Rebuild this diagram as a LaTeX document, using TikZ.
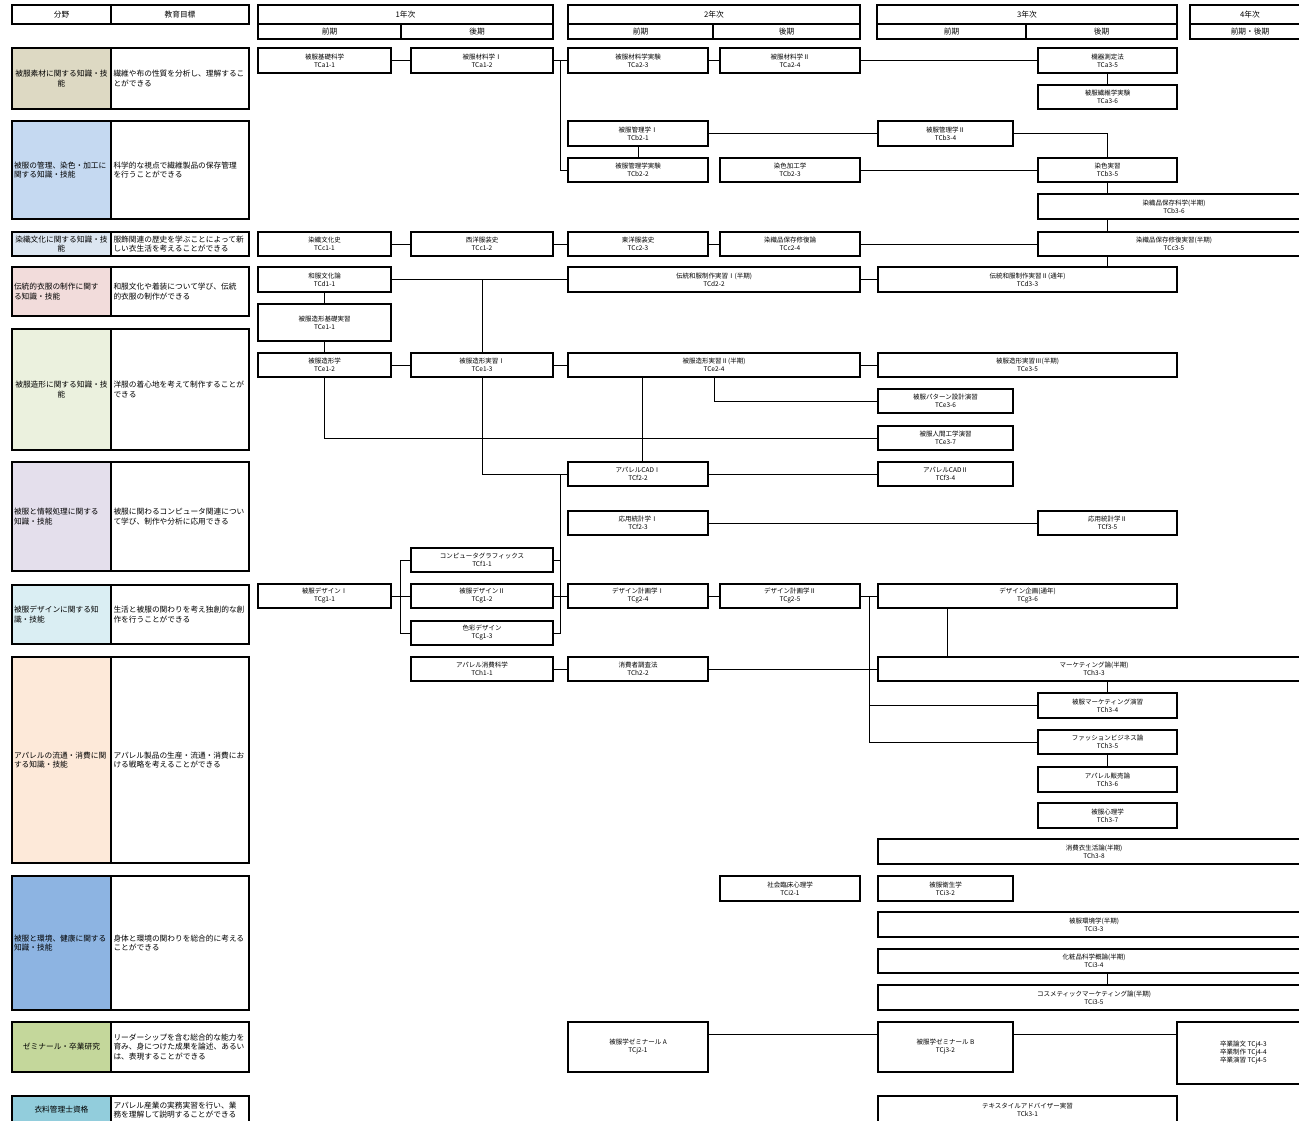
\documentclass[tikz,border=0pt]{standalone}
\usepackage{fontspec}
\newfontfamily\jpf{Noto Sans CJK JP}
\definecolor{cmat}{HTML}{DDD9C3}
\definecolor{cman}{HTML}{C5D9F1}
\definecolor{ccul}{HTML}{DCE6F1}
\definecolor{ctra}{HTML}{F2DCDB}
\definecolor{cfor}{HTML}{EBF1DE}
\definecolor{cinf}{HTML}{E4DFEC}
\definecolor{cdes}{HTML}{DAEEF3}
\definecolor{capp}{HTML}{FDE9D9}
\definecolor{cenv}{HTML}{8DB4E2}
\definecolor{csem}{HTML}{C4D79B}
\definecolor{cqua}{HTML}{92CDDC}
\tikzset{
    course/.style={draw, line width=1.1pt, align=center, inner sep=0pt, minimum height=25, font=\jpf\fontsize{6.5}{8}\selectfont},
    field/.style={draw, line width=1.2pt, inner xsep=2pt, inner ysep=0pt, text width=95, align=left, font=\jpf\fontsize{7.7}{9.6}\selectfont},
    goal/.style={draw, line width=1.2pt, inner xsep=2.5pt, inner ysep=0pt, text width=133, align=left, fill=white, font=\jpf\fontsize{7.7}{9.6}\selectfont},
    head/.style={draw, line width=1.2pt, inner sep=0pt, font=\jpf\fontsize{7.7}{9}\selectfont},
    link/.style={line width=0.9pt},
}
\begin{document}
\begin{tikzpicture}[x=1pt, y=-1pt]
        \useasboundingbox (0, 0) rectangle (1299, 1121);
        \fill[white] (0, 0) rectangle (1299, 1121);
        \clip (0, 0) rectangle (1299, 1121);

        \node[head, minimum width=99, minimum height=19] (fieldhead) at(61.5, 14.5){分野};
        \node[head, minimum width=138, minimum height=19] (goalhead) at(180, 14.5){教育目標};
        \node[head, minimum width=295, minimum height=19] (year1) at(405.5, 14.5){1年次};
            \node[head, minimum width=143, minimum height=15] (year1a) at(329.5, 31.5){前期};
            \node[head, minimum width=152, minimum height=15] (year1b) at(477, 31.5){後期};
        \node[head, minimum width=292, minimum height=19] (year2) at(714, 14.5){2年次};
            \node[head, minimum width=145, minimum height=15] (year2a) at(640.5, 31.5){前期};
            \node[head, minimum width=147, minimum height=15] (year2b) at(786.5, 31.5){後期};
        \node[head, minimum width=300, minimum height=19] (year3) at(1027, 14.5){3年次};
            \node[head, minimum width=149, minimum height=15] (year3a) at(951.5, 31.5){前期};
            \node[head, minimum width=151, minimum height=15] (year3b) at(1101.5, 31.5){後期};
        \node[head, minimum width=120, minimum height=19] (year4) at(1250, 14.5){4年次};
            \node[head, minimum width=120, minimum height=15] (year4a) at(1250, 31.5){前期・後期};

        \node[field, fill=cmat, minimum height=61, align=center] (fmat) at(61.5, 78.5){被服素材に関する知識・技\\能};
        \node[goal, minimum height=61] (gmat) at(180, 78.5){繊維や布の性質を分析し、理解するこ\\とができる};
        \node[field, fill=cman, minimum height=98] (fman) at(61.5, 170){被服の管理、染色・加工に\\関する知識・技能};
        \node[goal, minimum height=98] (gman) at(180, 170){科学的な視点で繊維製品の保存管理\\を行うことができる};
        \node[field, fill=ccul, minimum height=24, align=center] (fcul) at(61.5, 244){染織文化に関する知識・技\\能};
        \node[goal, minimum height=24] (gcul) at(180, 244){服飾関連の歴史を学ぶことによって新\\しい衣生活を考えることができる};
        \node[field, fill=ctra, minimum height=49] (ftra) at(61.5, 291.5){伝統的衣服の制作に関す\\る知識・技能};
        \node[goal, minimum height=49] (gtra) at(180, 291.5){和服文化や着装について学び、伝統\\的衣服の制作ができる};
        \node[field, fill=cfor, minimum height=121, align=center] (ffor) at(61.5, 389.5){被服造形に関する知識・技\\能};
        \node[goal, minimum height=121] (gfor) at(180, 389.5){洋服の着心地を考えて制作することが\\できる};
        \node[field, fill=cinf, minimum height=109] (finf) at(61.5, 516.5){被服と情報処理に関する\\知識・技能};
        \node[goal, minimum height=109] (ginf) at(180, 516.5){被服に関わるコンピュータ関連につい\\て学び、制作や分析に応用できる};
        \node[field, fill=cdes, minimum height=59] (fdes) at(61.5, 614.5){被服デザインに関する知\\識・技能};
        \node[goal, minimum height=59] (gdes) at(180, 614.5){生活と被服の関わりを考え独創的な創\\作を行うことができる};
        \node[field, fill=capp, minimum height=206] (fapp) at(61.5, 760){アパレルの流通・消費に関\\する知識・技能};
        \node[goal, minimum height=206] (gapp) at(180, 760){アパレル製品の生産・流通・消費にお\\ける戦略を考えることができる};
        \node[field, fill=cenv, minimum height=134] (fenv) at(61.5, 943){被服と環境、健康に関する\\知識・技能};
        \node[goal, minimum height=134] (genv) at(180, 943){身体と環境の関わりを総合的に考える\\ことができる};
        \node[field, fill=csem, minimum height=50, align=center] (fsem) at(61.5, 1047){ゼミナール・卒業研究};
        \node[goal, minimum height=50] (gsem) at(180, 1047){リーダーシップを含む総合的な能力を\\育み、身につけた成果を論述、あるい\\は、表現することができる};
        \node[field, fill=cqua, minimum height=28, align=center] (fqua) at(61.5, 1110){衣料管理士資格};
        \node[goal, minimum height=28] (gqua) at(180, 1110){アパレル産業の実務実習を行い、業\\務を理解して説明することができる};

        \node[course, minimum width=133] (TCa11) at(324.5, 60.5){被服基礎科学\\TCa1-1};
        \node[course, minimum width=142] (TCa12) at(482, 60.5){被服材料学Ⅰ\\TCa1-2};
        \node[course, minimum width=140] (TCa23) at(638, 60.5){被服材料学実験\\TCa2-3};
        \node[course, minimum width=140] (TCa24) at(790, 60.5){被服材料学Ⅱ\\TCa2-4};
        \node[course, minimum width=139] (TCa35) at(1107.5, 60.5){機器測定法\\TCa3-5};
        \node[course, minimum width=139, minimum height=24] (TCa36) at(1107.5, 97){被服繊維学実験\\TCa3-6};

        \node[course, minimum width=140] (TCb21) at(638, 133.5){被服管理学Ⅰ\\TCb2-1};
        \node[course, minimum width=135] (TCb34) at(945.5, 133.5){被服管理学Ⅱ\\TCb3-4};
        \node[course, minimum width=140, minimum height=24] (TCb22) at(638, 170){被服管理学実験\\TCb2-2};
        \node[course, minimum width=140, minimum height=24] (TCb23) at(790, 170){染色加工学\\TCb2-3};
        \node[course, minimum width=139, minimum height=24] (TCb35) at(1107.5, 170){染色実習\\TCb3-5};
        \node[course, minimum width=272] (TCb36) at(1174, 206.5){染織品保存科学(半期)\\TCb3-6};

        \node[course, minimum width=133, minimum height=24] (TCc11) at(324.5, 244){染織文化史\\TCc1-1};
        \node[course, minimum width=142, minimum height=24] (TCc12) at(482, 244){西洋服装史\\TCc1-2};
        \node[course, minimum width=140, minimum height=24] (TCc23) at(638, 244){東洋服装史\\TCc2-3};
        \node[course, minimum width=140, minimum height=24] (TCc24) at(790, 244){染織品保存修復論\\TCc2-4};
        \node[course, minimum width=272, minimum height=24] (TCc35) at(1174, 244){染織品保存修復実習(半期)\\TCc3-5};

        \node[course, minimum width=133] (TCd11) at(324.5, 279.5){和服文化論\\TCd1-1};
        \node[course, minimum width=292] (TCd22) at(714, 279.5){伝統和服制作実習Ⅰ(半期)\\TCd2-2};
        \node[course, minimum width=299] (TCd33) at(1027.5, 279.5){伝統和服制作実習Ⅱ(通年)\\TCd3-3};

        \node[course, minimum width=133, minimum height=37] (TCe11) at(324.5, 322.5){被服造形基礎実習\\TCe1-1};
        \node[course, minimum width=133, minimum height=24] (TCe12) at(324.5, 365){被服造形学\\TCe1-2};
        \node[course, minimum width=142, minimum height=24] (TCe13) at(482, 365){被服造形実習Ⅰ\\TCe1-3};
        \node[course, minimum width=292, minimum height=24] (TCe24) at(714, 365){被服造形実習Ⅱ(半期)\\TCe2-4};
        \node[course, minimum width=299, minimum height=24] (TCe35) at(1027.5, 365){被服造形実習Ⅲ(半期)\\TCe3-5};
        \node[course, minimum width=135, minimum height=24] (TCe36) at(945.5, 401){被服パターン設計演習\\TCe3-6};
        \node[course, minimum width=135, minimum height=24] (TCe37) at(945.5, 438){被服人間工学演習\\TCe3-7};

        \node[course, minimum width=140, minimum height=24] (TCf22) at(638, 474){アパレルCADⅠ\\TCf2-2};
        \node[course, minimum width=135, minimum height=24] (TCf34) at(945.5, 474){アパレルCADⅡ\\TCf3-4};
        \node[course, minimum width=140, minimum height=24] (TCf23) at(638, 523){応用統計学Ⅰ\\TCf2-3};
        \node[course, minimum width=139, minimum height=24] (TCf35) at(1107.5, 523){応用統計学Ⅱ\\TCf3-5};
        \node[course, minimum width=142, minimum height=24] (TCf11) at(482, 560){コンピュータグラフィックス\\TCf1-1};

        \node[course, minimum width=133, minimum height=24] (TCg11) at(324.5, 596){被服デザインⅠ\\TCg1-1};
        \node[course, minimum width=142, minimum height=24] (TCg12) at(482, 596){被服デザインⅡ\\TCg1-2};
        \node[course, minimum width=142, minimum height=24] (TCg13) at(482, 633){色彩デザイン\\TCg1-3};
        \node[course, minimum width=140, minimum height=24] (TCg24) at(638, 596){デザイン計画学Ⅰ\\TCg2-4};
        \node[course, minimum width=140, minimum height=24] (TCg25) at(790, 596){デザイン計画学Ⅱ\\TCg2-5};
        \node[course, minimum width=299, minimum height=24] (TCg36) at(1027.5, 596){デザイン企画(通年)\\TCg3-6};

        \node[course, minimum width=142, minimum height=24] (TCh11) at(482, 669){アパレル消費科学\\TCh1-1};
        \node[course, minimum width=140, minimum height=24] (TCh22) at(638, 669){消費者調査法\\TCh2-2};
        \node[course, minimum width=432, minimum height=24] (TCh33) at(1094, 669){マーケティング論(半期)\\TCh3-3};
        \node[course, minimum width=139] (TCh34) at(1107.5, 705.5){被服マーケティング演習\\TCh3-4};
        \node[course, minimum width=139, minimum height=24] (TCh35) at(1107.5, 742){ファッションビジネス論\\TCh3-5};
        \node[course, minimum width=139] (TCh36) at(1107.5, 779.5){アパレル販売論\\TCh3-6};
        \node[course, minimum width=139] (TCh37) at(1107.5, 815.5){被服心理学\\TCh3-7};
        \node[course, minimum width=432] (TCh38) at(1094, 851.5){消費衣生活論(半期)\\TCh3-8};

        \node[course, minimum width=140] (TCi21) at(790, 888.5){社会臨床心理学\\TCi2-1};
        \node[course, minimum width=135] (TCi32) at(945.5, 888.5){被服衛生学\\TCi3-2};
        \node[course, minimum width=432] (TCi33) at(1094, 924.5){被服環境学(半期)\\TCi3-3};
        \node[course, minimum width=432, minimum height=24] (TCi34) at(1094, 961){化粧品科学概論(半期)\\TCi3-4};
        \node[course, minimum width=432] (TCi35) at(1094, 997.5){コスメティックマーケティング論(半期)\\TCi3-5};

        \node[course, minimum width=140, minimum height=50] (TCj21) at(638, 1047){被服学ゼミナール A\\TCj2-1};
        \node[course, minimum width=135, minimum height=50] (TCj32) at(945.5, 1047){被服学ゼミナール B\\TCj3-2};
        \node[course, minimum width=133, minimum height=62] (TCj4) at(1243.5, 1053){卒業論文 TCj4-3\\卒業制作 TCj4-4\\卒業演習 TCj4-5};
        \node[course, minimum width=299, minimum height=28] (TCk31) at(1027.5, 1110){テキスタイルアドバイザー実習\\TCk3-1};

        \draw[link] (TCa11) -- (TCa12);
        \draw[link] (TCa12) -- (TCa23);
        \draw[link] (TCa23) -- (TCa24);
        \draw[link] (TCa24) -- (TCa35);
        \draw[link] (TCa35) -- (TCa36);
        \draw[link] ([xshift=7pt]TCa12.east) |- (TCb22);

        \draw[link] (TCb21) -- (TCb22);
        \draw[link] (TCb21) -- (TCb34);
        \draw[link] (TCb34) -| (TCb35);
        \draw[link] (TCb23) -- (TCb35);
        \draw[link] (TCb35) -- (TCb35 |- TCb36.north);
        \draw[link] (TCb35 |- TCb36.south) -- (TCb35 |- TCc35.north);
        \draw[link] (TCb35 |- TCc35.south) -- (TCb35 |- TCd33.north);

        \draw[link] (TCc11) -- (TCc12);
        \draw[link] (TCc12) -- (TCc23);
        \draw[link] (TCc23) -- (TCc24);
        \draw[link] (TCc24) -- (TCc35);

        \draw[link] (TCd11) -- (TCd22);
        \draw[link] (TCd22) -- (TCd33);
        \draw[link] (TCd11) -- (TCe11);
        \draw[link] (TCe11) -- (TCe12);
        \draw[link] (TCe13) -- (TCe13 |- TCd11);

        \draw[link] (TCe12) -- (TCe13);
        \draw[link] (TCe13) -- (TCe24);
        \draw[link] (TCe24) -- (TCe35);
        \draw[link] (TCe24) |- (TCe36);
        \draw[link] (TCe12) |- (TCe37);
        \draw[link] (TCe13) |- (TCf22);
        \draw[link] ([xshift=4pt]TCf22.north) -- ([xshift=4pt]TCf22.north |- TCe24.south);
        \draw[link] (TCf22) -- (TCf34);
        \draw[link] (TCf23) -- (TCf35);

        \draw[link] (TCg11) -- (TCg12);
        \draw[link] (TCf11.west) -- ++(-10, 0) |- (TCg13.west);
        \draw[link] (TCf11.east) -- ++(7, 0);
        \draw[link] (TCg13.east) -- ++(7, 0) |- (TCf22);
        \draw[link] (TCg12) -- (TCg24);
        \draw[link] (TCg24) -- (TCg25);
        \draw[link] (TCg25) -- (TCg36);
        \coordinate (hub) at(869, 596);
        \draw[link] (hub) |- (TCh35);
        \draw[link] (hub |- TCh34) -- (TCh34);
        \draw[link] ([xshift=-80.5pt]TCg36.south) -- ([xshift=-80.5pt]TCg36.south |- TCh33.north);

        \draw[link] (TCh11) -- (TCh22);
        \draw[link] (TCh22) -- (TCh33);
        \draw[link] (TCh34) -- (TCh34 |- TCh33.south);
        \draw[link] (TCh35) -- (TCh36);
        \draw[link] (TCh36 |- TCi34.south) -- (TCh36 |- TCi35.north);

        \draw[link] ([yshift=13pt]TCj21.east) -- ([yshift=13pt]TCj32.west);
        \draw[link] ([yshift=13pt]TCj32.east) -- ([yshift=13pt]TCj32.east -| TCj4.west);
\end{tikzpicture}
\end{document}
